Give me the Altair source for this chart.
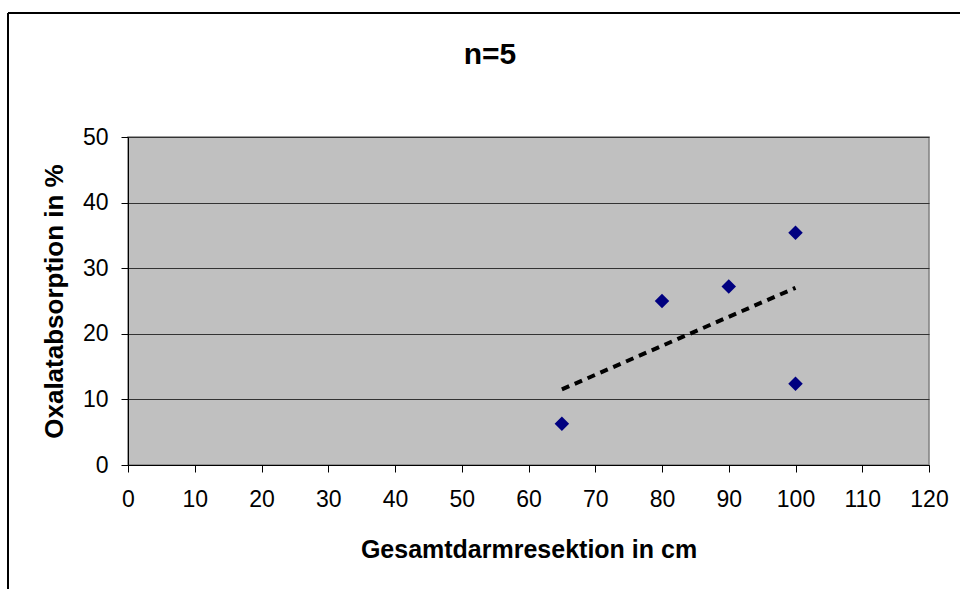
import altair as alt
import pandas as pd

x_vals = [65, 80, 90, 100, 100]
y_vals = [6.3, 25.0, 27.2, 35.4, 12.4]
x_ticks = list(range(0, 121, 10))
y_ticks = list(range(0, 51, 10))
chart_title = "n=5"

df = pd.DataFrame({"x": x_vals, "y": y_vals})

W, H = 801, 328
FONT = "Liberation Sans"

xs = alt.Scale(domain=[0, 120], nice=False, zero=True)
ys = alt.Scale(domain=[0, 50], nice=False, zero=True)

xaxis = alt.Axis(values=x_ticks, grid=False, tickSize=7, labelPadding=16,
                 labelFontSize=23, labelFont=FONT, labelColor="black",
                 title="Gesamtdarmresektion in cm", titleFont=FONT, titleFontSize=25,
                 titleFontWeight="bold", titlePadding=26, titleColor="black",
                 domainColor="#000", tickColor="#000", labelFlush=False)
yaxis = alt.Axis(values=y_ticks, grid=True, gridColor="#333", gridWidth=1,
                 tickSize=7, labelPadding=13, labelFontSize=23, labelFont=FONT,
                 labelColor="black", title="Oxalatabsorption in %", titleFont=FONT,
                 titleFontSize=26, titleFontWeight="bold", titlePadding=15,
                 titleColor="black", domainColor="#000", tickColor="#000")

base = alt.Chart(df)

points = base.mark_point(shape="diamond", filled=True, color="#000080",
                         size=210, opacity=1).encode(
    x=alt.X("x:Q", scale=xs, axis=xaxis),
    y=alt.Y("y:Q", scale=ys, axis=yaxis),
)

trend = base.transform_regression("x", "y").mark_line(
    color="black", strokeWidth=4, strokeDash=[8, 6]).encode(
    x=alt.X("x:Q", scale=xs),
    y=alt.Y("y:Q", scale=ys),
)

title_df = pd.DataFrame({"t": [chart_title]})
title_mark = alt.Chart(title_df).mark_text(
    font=FONT, fontSize=30, fontWeight="bold", color="black",
    align="center", baseline="middle").encode(
    text="t:N", x=alt.value(362), y=alt.value(-82))

frame_top = alt.Chart(df).mark_rule(color="black", strokeWidth=2).encode(
    x=alt.value(-120), x2=alt.value(840), y=alt.value(-124))
frame_left = alt.Chart(df).mark_rule(color="black", strokeWidth=2).encode(
    x=alt.value(-120), y=alt.value(-124), y2=alt.value(460))

chart = alt.layer(trend, points, title_mark, frame_top, frame_left).properties(
    width=W, height=H,
    background="white",
    autosize=alt.AutoSizeParams(type="none"),
    padding={"left": 128, "top": 137, "right": 31, "bottom": 124},
).configure_view(fill="#C0C0C0", stroke="#808080", strokeWidth=1.5)

chart.save("out.html", embed_options={"renderer": "svg", "actions": False})
